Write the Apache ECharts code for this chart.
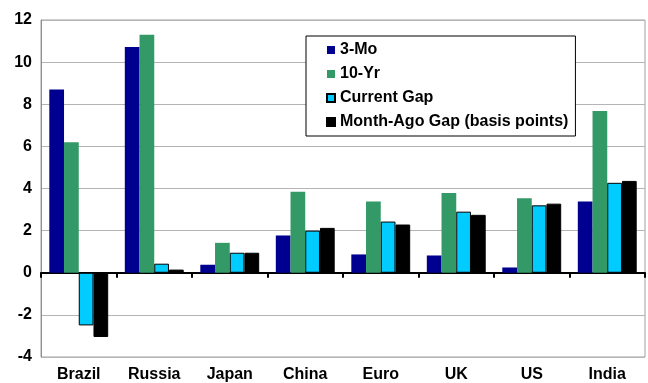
<!DOCTYPE html>
<html><head><meta charset="utf-8">
<script src="https://cdn.jsdelivr.net/npm/echarts@6/dist/echarts.min.js"></script>
<style>html,body{margin:0;padding:0;background:#fff}#c{width:648px;height:383px}</style>
</head><body><div id="c"></div>
<script>
var categories = ['Brazil','Russia','Japan','China','Euro','UK','US','India'];
var threeMo = [8.7, 10.72, 0.38, 1.77, 0.87, 0.82, 0.25, 3.38];
var tenYr = [6.2, 11.3, 1.42, 3.85, 3.38, 3.79, 3.54, 7.68];
var currentGap = [-2.5, 0.43, 0.95, 2.0, 2.43, 2.9, 3.2, 4.27];
var monthAgoGap = [-3.05, 0.15, 0.95, 2.13, 2.29, 2.75, 3.28, 4.36];
var seriesNames = ['3-Mo','10-Yr','Current Gap','Month-Ago Gap (basis points)'];

var font = '"Liberation Sans", Arial, sans-serif';
var chart = echarts.init(document.getElementById('c'), null, {renderer:'canvas'});
chart.setOption({
  animation:false,
  backgroundColor:'#fff',
  textStyle:{fontFamily:font},
  grid:{left:41,right:3,top:20,bottom:25,show:true,borderColor:'#a0a0a0',borderWidth:1,containLabel:false},
  legend:{
    data:seriesNames, orient:'vertical', left:306, top:36,
    backgroundColor:'#fff', borderColor:'#000', borderWidth:1,
    padding:[6,7,6,20], itemGap:8, itemWidth:8, itemHeight:8, itemTextGap:4,
    icon:'rect',
    textStyle:{fontFamily:font,fontWeight:'bold',fontSize:16,color:'#000'}
  },
  xAxis:[{
    type:'category', data:categories,
    axisLine:{onZero:true,lineStyle:{color:'#000',width:2}},
    axisTick:{show:true,length:5,lineStyle:{color:'#000',width:2}},
    axisLabel:{show:false}, splitLine:{show:false}
  },{
    type:'category', data:categories, position:'bottom',
    axisLine:{show:false,onZero:false}, axisTick:{show:false},
    axisLabel:{show:true,margin:10,color:'#000',fontFamily:font,fontWeight:'bold',fontSize:16}
  }],
  yAxis:{
    type:'value', min:-4, max:12, interval:2,
    axisLine:{show:true,lineStyle:{color:'#909090',width:1}},
    axisTick:{show:false},
    axisLabel:{color:'#000',fontFamily:font,fontWeight:'bold',fontSize:16,margin:9},
    splitLine:{lineStyle:{color:'#b4b4b4',width:1}}
  },
  series:[
    {name:seriesNames[0],type:'bar',data:threeMo,barGap:'0%',barCategoryGap:'22%',itemStyle:{color:'#000090'}},
    {name:seriesNames[1],type:'bar',data:tenYr,itemStyle:{color:'#339966'}},
    {name:seriesNames[2],type:'bar',data:currentGap,itemStyle:{color:'#00CCFF',borderColor:'#000',borderWidth:1}},
    {name:seriesNames[3],type:'bar',data:monthAgoGap,itemStyle:{color:'#000',borderColor:'#000',borderWidth:1}}
  ]
});
</script></body></html>
